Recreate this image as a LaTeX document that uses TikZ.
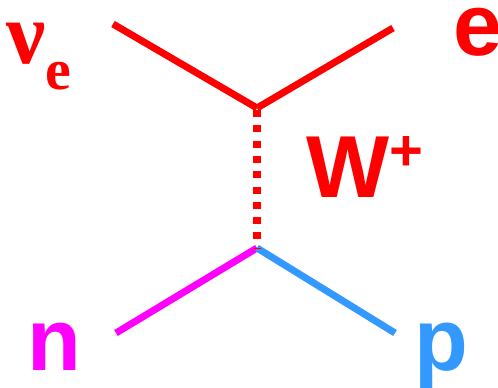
\documentclass[tikz,border=0pt]{standalone}
\usepackage{fontspec}
\setmainfont{Liberation Sans}
\newfontfamily\greekfont{Liberation Serif}
\usepackage{tikz}
\usetikzlibrary{positioning}
\definecolor{leptonred}{RGB}{255,0,0}
\definecolor{neutronpink}{RGB}{255,0,255}
\definecolor{protonblue}{RGB}{51,153,255}
\tikzset{
  leg/.style={line width=7pt, line cap=butt},
  boson/.style={line width=8pt, dash pattern=on 7pt off 8.3pt, draw=leptonred},
  lbl/.style={inner sep=0pt, font=\fontsize{88}{88}\selectfont\bfseries}
}

\begin{document}
\begin{tikzpicture}[x=1pt,y=-1pt]
  \useasboundingbox (0,0) rectangle (498,388);
  \coordinate (top) at (257,108);
  \coordinate (bot) at (257,248);
  \coordinate (nuin) at (113,24);
  \coordinate (eout) at (393,28);
  \coordinate (nin) at (116,333);
  \coordinate (pout) at (395,333);
  \foreach \u/\v/\c in {nuin/top/leptonred,top/eout/leptonred,nin/bot/neutronpink,bot/pout/protonblue}
    \draw[leg, draw=\c] (\u)--(\v);
  \draw[boson] ([yshift=-2pt]top) -- (bot);
  \node[lbl, text=leptonred, anchor=base west] (nu) at (6,63)
    {\greekfont ν\raisebox{-26pt}{\fontsize{58}{58}\selectfont e}};
  \node[lbl, text=leptonred, anchor=base] (e) at (478,55) {e};
  \node[lbl, text=leptonred, anchor=base west] (w) at (306,197)
    {W\raisebox{27pt}{\fontsize{58}{58}\selectfont +}};
  \node[lbl, text=neutronpink, anchor=base] (n) at (54,370) {n};
  \node[lbl, text=protonblue, anchor=base] (p) at (441,370) {p};
\end{tikzpicture}
\end{document}
